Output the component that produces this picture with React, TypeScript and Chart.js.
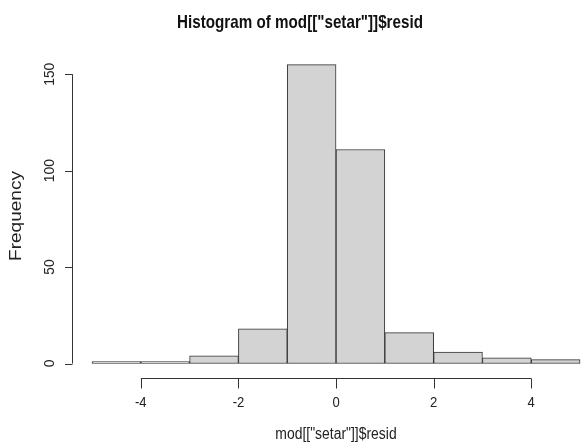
import React, { useEffect, useRef } from "react";
import { Chart, registerables } from "chart.js";

Chart.register(...registerables);

// ---- data ----
const binStarts = [-5, -4, -3, -2, -1, 0, 1, 2, 3, 4];
const binWidth = 1;
const frequencies = [1, 1, 4, 18, 155, 111, 16, 6, 3, 2];
const xTicks = [-4, -2, 0, 2, 4];
const yTicks = [0, 50, 100, 150];
const mainTitle = 'Histogram of mod[["setar"]]$resid';
const xTitle = 'mod[["setar"]]$resid';
const yTitle = "Frequency";

const FONT = '"Liberation Sans", Arial, Helvetica, sans-serif';

function drawText(
  ctx: CanvasRenderingContext2D,
  text: string,
  x: number,
  y: number,
  font: string,
  cond: number,
  rotated: boolean,
  baseline: CanvasTextBaseline
) {
  ctx.save();
  ctx.font = font;
  ctx.textAlign = "center";
  ctx.textBaseline = baseline;
  ctx.translate(x, y);
  if (rotated) ctx.rotate(-Math.PI / 2);
  ctx.scale(cond, 1);
  ctx.fillText(text, 0, 0);
  ctx.restore();
}

const rAxesPlugin = {
  id: "rAxes",
  afterDraw(chart: any) {
    const ctx = chart.ctx as CanvasRenderingContext2D;
    const xs = chart.scales.x;
    const ys = chart.scales.y;
    const area = chart.chartArea;
    ctx.save();
    ctx.strokeStyle = "#333";
    ctx.fillStyle = "#222";
    ctx.lineWidth = 1;

    // x axis
    const axY = Math.round(area.bottom) + 0.5;
    const x0 = xs.getPixelForValue(xTicks[0]);
    const x1 = xs.getPixelForValue(xTicks[xTicks.length - 1]);
    ctx.beginPath();
    ctx.moveTo(x0, axY);
    ctx.lineTo(x1, axY);
    xTicks.forEach((t) => {
      const px = Math.round(xs.getPixelForValue(t)) + 0.5;
      ctx.moveTo(px, axY);
      ctx.lineTo(px, axY + 10);
    });
    ctx.stroke();
    xTicks.forEach((t) => {
      drawText(ctx, String(t), xs.getPixelForValue(t), axY + 24, `14.5px ${FONT}`, 0.9, false, "middle");
    });

    // y axis
    const axX = Math.round(area.left) - 0.5;
    const yA = ys.getPixelForValue(yTicks[0]);
    const yB = ys.getPixelForValue(yTicks[yTicks.length - 1]);
    ctx.beginPath();
    ctx.moveTo(axX, yA);
    ctx.lineTo(axX, yB);
    yTicks.forEach((t) => {
      const py = Math.round(ys.getPixelForValue(t)) + 0.5;
      ctx.moveTo(axX, py);
      ctx.lineTo(axX - 7.5, py);
    });
    ctx.stroke();
    yTicks.forEach((t) => {
      drawText(ctx, String(t), axX - 23, ys.getPixelForValue(t), `15px ${FONT}`, 0.92, true, "middle");
    });

    // axis titles
    drawText(ctx, xTitle, 336, 439, `16px ${FONT}`, 0.87, false, "alphabetic");
    drawText(ctx, yTitle, 16, 216, `17px ${FONT}`, 1.12, true, "middle");

    // main title
    ctx.fillStyle = "#111";
    drawText(ctx, mainTitle, 300, 28, `bold 19px ${FONT}`, 0.8, false, "alphabetic");
    ctx.restore();
  },
};

export default function App() {
  const canvasRef = useRef<HTMLCanvasElement | null>(null);

  useEffect(() => {
    document.body.style.margin = "0";
    const canvas = canvasRef.current;
    if (!canvas) return;
    const data = binStarts.map((s, i) => ({ x: s + binWidth / 2, y: frequencies[i] }));
    const chart = new Chart(canvas, {
      type: "bar",
      data: {
        datasets: [
          {
            data: data as any,
            backgroundColor: "#D3D3D3",
            borderColor: "#333",
            borderWidth: 1,
            borderSkipped: false,
            barPercentage: 1,
            categoryPercentage: 1,
          },
        ],
      },
      options: {
        responsive: false,
        animation: false,
        devicePixelRatio: 1,
        layout: { padding: { left: 72.5, right: 0, top: 55, bottom: 64 } },
        plugins: {
          legend: { display: false },
          title: { display: false },
          tooltip: { enabled: false },
        },
        scales: {
          x: { type: "linear", min: -5.4, max: 5.04, display: false, offset: false },
          y: { type: "linear", min: -7.5, max: 160, display: false },
        },
      },
      plugins: [rAxesPlugin],
    });
    return () => chart.destroy();
  }, []);

  return (
    <div style={{ width: 582, height: 442, background: "#fff" }}>
      <canvas ref={canvasRef} width={582} height={442} style={{ display: "block" }} />
    </div>
  );
}
